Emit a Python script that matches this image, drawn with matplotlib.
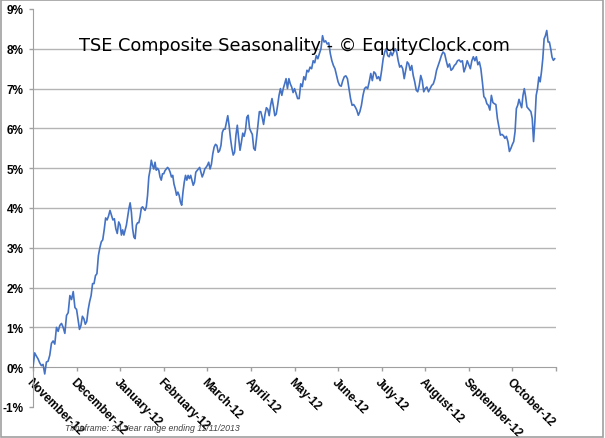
import numpy as np
import matplotlib.pyplot as plt
from matplotlib.patches import Rectangle

# month labels along the bottom (ticks at month starts)
months = ['November-12', 'December-12', 'January-12', 'February-12', 'March-12',
          'April-12', 'May-12', 'June-12', 'July-12', 'August-12',
          'September-12', 'October-12']

# seasonal return (%), month by month
nov = [0.0, 0.36, 0.28, 0.21, 0.11, 0.04, 0.07, -0.17, 0.13, 0.15, 0.3, 0.6, 0.66,
       0.58, 1.0, 0.9, 1.05, 1.1, 1.0, 0.85, 1.3, 1.37, 1.8, 1.7, 1.9, 1.5]
dec = [1.45, 1.2, 0.95, 1.05, 1.28, 1.22, 1.08, 1.15, 1.45, 1.65, 1.8, 2.1, 2.1,
       2.3, 2.35, 2.8, 3.0, 3.15, 3.2, 3.45, 3.75, 3.7, 3.8, 3.94, 3.82, 3.7, 3.73,
       3.48, 3.36, 3.65]
jan = [3.57, 3.32, 3.45, 3.32, 3.45, 3.57, 3.78, 3.98, 4.13, 3.9, 3.48, 3.27, 3.23,
       3.57, 3.63, 3.63, 3.78, 4.0, 4.03, 3.98, 3.94, 4.03, 4.32, 4.78, 4.95, 5.2,
       5.07, 4.98, 5.15, 4.95, 5.0, 4.95, 4.78, 4.7, 4.86]
feb = [4.86, 4.94, 4.98, 5.02, 4.98, 4.9, 4.78, 4.82, 4.6, 4.48, 4.32, 4.4, 4.32,
       4.15, 4.07, 4.4, 4.65, 4.82, 4.7, 4.82, 4.74, 4.82, 4.7, 4.57, 4.65, 4.9,
       4.94, 4.98, 5.02, 4.9, 4.78, 4.86, 4.98, 5.02]
mar = [5.07, 5.15, 4.98, 5.1, 5.36, 5.53, 5.6, 5.57, 5.4, 5.44, 5.57, 5.9, 5.98,
       5.98, 6.15, 6.32, 6.07, 5.75, 5.5, 5.33, 5.4, 5.83, 6.08, 5.75, 5.45, 5.65,
       5.88, 5.8, 5.95, 6.28, 6.33, 6.0]
apr = [5.92, 5.85, 5.5, 5.45, 5.75, 6.08, 6.42, 6.42, 6.28, 6.1, 6.35, 6.52, 6.48,
       6.32, 6.58, 6.75, 6.55, 6.32, 6.36, 6.58, 6.83, 7.0, 6.83, 7.0, 7.12, 7.25,
       7.0, 7.25, 7.12, 7.04, 6.9]
may = [7.0, 6.88, 6.75, 6.75, 7.12, 7.05, 7.3, 7.22, 7.46, 7.42, 7.54, 7.5, 7.7,
       7.65, 7.83, 7.75, 7.88, 8.0, 8.33, 8.17, 8.2, 8.12, 8.15, 7.88, 7.7, 7.58,
       7.5, 7.33]
jun = [7.17, 7.08, 7.06, 7.2, 7.3, 7.32, 7.25, 7.0, 6.75, 6.58, 6.6, 6.54, 6.46,
       6.33, 6.42, 6.58, 6.83, 7.0, 7.04, 7.0, 7.17, 7.38, 7.2, 7.42, 7.38, 7.25,
       7.3, 7.2]
jul = [7.46, 7.75, 7.92, 8.0, 7.83, 7.8, 7.92, 7.83, 7.92, 8.0, 7.92, 7.7, 7.54,
       7.58, 7.5, 7.25, 7.46, 7.67, 7.62, 7.46, 7.58, 7.33, 7.17, 6.96, 6.92, 7.08,
       7.33, 7.2, 6.92]
aug = [7.0, 7.04, 6.92, 7.0, 7.08, 7.12, 7.25, 7.46, 7.58, 7.7, 7.83, 7.92, 7.88,
       7.7, 7.54, 7.62, 7.46, 7.5, 7.58, 7.62, 7.7, 7.72, 7.67, 7.7, 7.42, 7.54, 7.7]
sep = [7.6, 7.5, 7.7, 7.8, 7.7, 7.8, 7.6, 7.67, 7.5, 7.17, 6.8, 6.75, 6.62, 6.58,
       6.46, 6.83, 6.65, 6.62, 6.6, 6.25, 6.04, 5.83, 5.85, 5.82, 5.75, 5.8, 5.67,
       5.42, 5.5]
oct_ = [5.6, 5.67, 5.92, 6.5, 6.58, 6.73, 6.62, 6.52, 6.83, 7.0, 6.8, 6.54, 6.5,
        6.46, 6.42, 6.25, 5.67, 6.17, 6.83, 7.0, 7.29, 7.17, 7.42, 7.75, 8.25, 8.33,
        8.46, 8.17, 8.17, 8.0, 7.79, 7.71, 7.75]

monthly = [nov, dec, jan, feb, mar, apr, may, jun, jul, aug, sep, oct_]

# spread each month's daily values across its month slot
xs = []
ys = []
for m, vals in enumerate(monthly):
    for i, v in enumerate(vals):
        xs.append(m + i / len(vals))
        ys.append(v)

fig = plt.figure(figsize=(6.05, 4.39), dpi=100)
ax = fig.add_axes([33 / 605, 1 - 408 / 439, (556 - 33) / 605, (408 - 10) / 439])

# spine position first: it resets tick label styling
for s in ['top', 'right']:
    ax.spines[s].set_visible(False)
ax.spines['bottom'].set_position(('data', 0))
ax.spines['bottom'].set_color('#a0a0a0')
ax.spines['left'].set_color('#a0a0a0')

yt = np.arange(-1, 10)
for g in range(1, 9):
    ax.axhline(g, color='#b4b4b4', lw=1.0, zorder=1)

ax.plot(xs, ys, color='#4472c4', lw=1.2, zorder=3)

ax.set_xlim(0, 12)
ax.set_ylim(-1, 9)
ax.set_yticks(yt)
ax.set_yticklabels(['%d%%' % v for v in yt], fontweight='bold', fontsize=8.5,
                   family='Liberation Sans')
ax.set_xticks(np.arange(0, 13))
ax.set_xticklabels(months + [''], rotation=-45, ha='left', va='top',
                   rotation_mode='anchor', fontweight='bold', fontsize=8.5,
                   family='Liberation Sans')

ax.tick_params(axis='both', direction='out', length=3, color='#a0a0a0', width=1)
ax.tick_params(axis='x', pad=3)
ax.tick_params(axis='y', pad=4)

ax.text(0.5, 0.91, 'TSE Composite Seasonality - \u00a9 EquityClock.com',
        transform=ax.transAxes, ha='center', va='center', fontsize=12.8,
        family='DejaVu Sans', zorder=4)

fig.text(152 / 605, 1 - 429 / 439, 'Timeframe: 20 Year range ending 11/11/2013',
         ha='center', va='center', fontsize=6.3, style='italic', color='#404040',
         family='Liberation Sans')

fig.patches.append(Rectangle((0.002, 0.003), 0.994, 0.994, transform=fig.transFigure,
                             fill=False, edgecolor='#a0a0a0', lw=1.2))

fig.savefig('out.png', dpi=100)
